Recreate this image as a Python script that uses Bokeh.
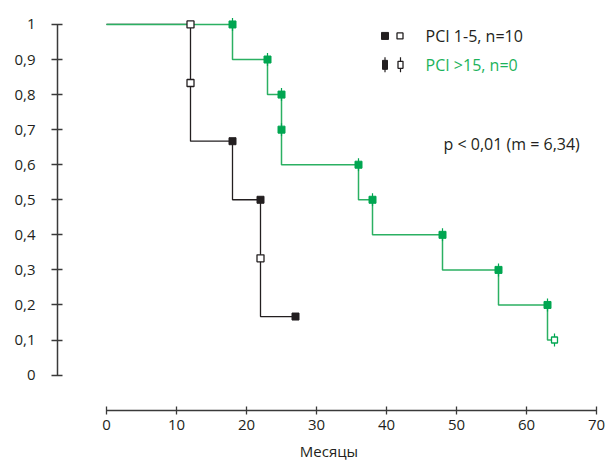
from bokeh.plotting import figure
from bokeh.models import Range1d, FixedTicker, CustomJSTickFormatter, Label
from bokeh.embed import file_html
from bokeh.resources import INLINE
import math

# ---- data ----
black_step_x = [0, 12, 18, 22, 27]
black_step_y = [1, 0.667, 0.5, 0.167, 0.167]
black_filled_x = [18, 22, 27]
black_filled_y = [0.667, 0.5, 0.167]
black_open_x = [12, 12, 22]
black_open_y = [1, 0.833, 0.333]

green_step_x = [0, 18, 23, 25, 36, 38, 48, 56, 63, 64]
green_step_y = [1, 0.9, 0.8, 0.6, 0.5, 0.4, 0.3, 0.2, 0.1, 0.1]
green_filled_x = [18, 23, 25, 25, 36, 38, 48, 56, 63]
green_filled_y = [1, 0.9, 0.8, 0.7, 0.6, 0.5, 0.4, 0.3, 0.2]
green_open_x = [64]
green_open_y = [0.1]

x_ticks = [0, 10, 20, 30, 40, 50, 60, 70]
y_ticks = [0, 0.1, 0.2, 0.3, 0.4, 0.5, 0.6, 0.7, 0.8, 0.9, 1]
series_labels = ["PCI 1-5, n=10", "PCI >15, n=0"]
annotation_text = "p < 0,01 (m = 6,34)"
x_label = "Месяцы"

# ---- style ----
FONT = "Open Sans"
BLACK = "#231f20"
GREEN_M = "#00a651"
GREEN_L = "#2bb062"
GREEN_T = "#1db35b"
AXIS = "#3a3a3a"

# pixel layout helpers (layout only)
X0_PX, X_PER = 106.0, 7.0
Y0_PX, Y_PER = 375.5, 351.5
def px2x(px):
    return (px - X0_PX) / X_PER
def px2y(py):
    return (Y0_PX - py) / Y_PER

FRAME_L, FRAME_R, FRAME_T, FRAME_B = 57, 600, 5, 411
W, H = 605, 463

p = figure(width=W, height=H, output_backend="svg", toolbar_location=None,
           x_range=Range1d(px2x(FRAME_L), px2x(FRAME_R)),
           y_range=Range1d(px2y(FRAME_B), px2y(FRAME_T)),
           min_border_left=FRAME_L, min_border_right=W - FRAME_R,
           min_border_top=FRAME_T, min_border_bottom=H - FRAME_B)
p.outline_line_color = None
p.xgrid.visible = False
p.ygrid.visible = False
p.background_fill_color = "white"
p.border_fill_color = "white"

# axes
p.xaxis.bounds = (x_ticks[0], x_ticks[-1])
p.xaxis.ticker = FixedTicker(ticks=x_ticks)
p.xaxis.minor_tick_line_color = None
p.xaxis.major_tick_in = 4
p.xaxis.major_tick_out = 4
p.xaxis.axis_line_color = AXIS
p.xaxis.axis_line_width = 1.5
p.xaxis.major_tick_line_color = AXIS
p.xaxis.major_tick_line_width = 1.3
p.xaxis.major_label_text_font = FONT
p.xaxis.major_label_text_font_size = "15px"
p.xaxis.major_label_text_color = BLACK
p.xaxis.major_label_standoff = 5
p.xaxis.axis_label = x_label
p.xaxis.axis_label_text_font = FONT
p.xaxis.axis_label_text_font_size = "15px"
p.xaxis.axis_label_text_font_style = "normal"
p.xaxis.axis_label_text_color = BLACK
p.xaxis.axis_label_standoff = 8

p.yaxis.bounds = (y_ticks[0], y_ticks[-1])
p.yaxis.ticker = FixedTicker(ticks=y_ticks)
p.yaxis.minor_tick_line_color = None
p.yaxis.major_tick_in = 5
p.yaxis.major_tick_out = 6
p.yaxis.axis_line_color = AXIS
p.yaxis.axis_line_width = 1.5
p.yaxis.major_tick_line_color = AXIS
p.yaxis.major_tick_line_width = 1.3
p.yaxis.major_label_text_font = FONT
p.yaxis.major_label_text_font_size = "15px"
p.yaxis.major_label_text_color = BLACK
p.yaxis.major_label_standoff = 16
p.yaxis.formatter = CustomJSTickFormatter(code="""
    if (Math.abs(tick) < 1e-9) return "0";
    if (Math.abs(tick - 1) < 1e-9) return "1";
    return tick.toFixed(1).replace('.', ',');
""")

# curves
p.step(black_step_x, black_step_y, mode="after", line_color=BLACK, line_width=1.3)
p.step(green_step_x, green_step_y, mode="after", line_color=GREEN_L, line_width=1.5)

# markers
p.scatter(black_open_x, black_open_y, marker="square", size=7,
          fill_color="white", line_color=BLACK, line_width=1.3)
p.scatter(black_filled_x, black_filled_y, marker="square", size=7,
          fill_color=BLACK, line_color=BLACK)
p.scatter(green_filled_x, green_filled_y, marker="dash", angle=math.pi / 2, size=13,
          line_color=GREEN_M, line_width=1.2)
p.scatter(green_filled_x, green_filled_y, marker="square", size=7,
          fill_color=GREEN_M, line_color=GREEN_M)
p.scatter(green_open_x, green_open_y, marker="dash", angle=math.pi / 2, size=13,
          line_color=GREEN_M, line_width=1.2)
p.scatter(green_open_x, green_open_y, marker="square", size=6,
          fill_color="white", line_color=GREEN_M, line_width=1.3)

# legend (drawn manually to match the two-symbol layout)
ROW1, ROW2 = 35.5, 64.5
p.scatter([px2x(384.5)], [px2y(ROW1)], marker="square", size=7, fill_color=BLACK, line_color=BLACK)
p.scatter([px2x(399.5)], [px2y(ROW1)], marker="square", size=6, fill_color="white",
          line_color=BLACK, line_width=1.3)
p.scatter([px2x(384.5), px2x(400)], [px2y(ROW2)] * 2, marker="dash", angle=math.pi / 2,
          size=15, line_color=BLACK, line_width=1.2)
p.rect([px2x(384.5)], [px2y(ROW2)], width=5, height=9, width_units="screen",
       height_units="screen", fill_color=BLACK, line_color=BLACK)
p.rect([px2x(400)], [px2y(ROW2)], width=5, height=7, width_units="screen",
       height_units="screen", fill_color="white", line_color=BLACK, line_width=1.3)

p.add_layout(Label(x=px2x(425), y=px2y(ROW1), text=series_labels[0], text_font=FONT,
                   text_font_size="16px", text_color=BLACK, text_baseline="middle"))
p.add_layout(Label(x=px2x(425), y=px2y(ROW2), text=series_labels[1], text_font=FONT,
                   text_font_size="16px", text_color=GREEN_T, text_baseline="middle"))
p.add_layout(Label(x=px2x(443), y=px2y(144), text=annotation_text, text_font=FONT,
                   text_font_size="16px", text_color=BLACK, text_baseline="middle"))

open("out.html", "w").write(file_html(p, INLINE))
